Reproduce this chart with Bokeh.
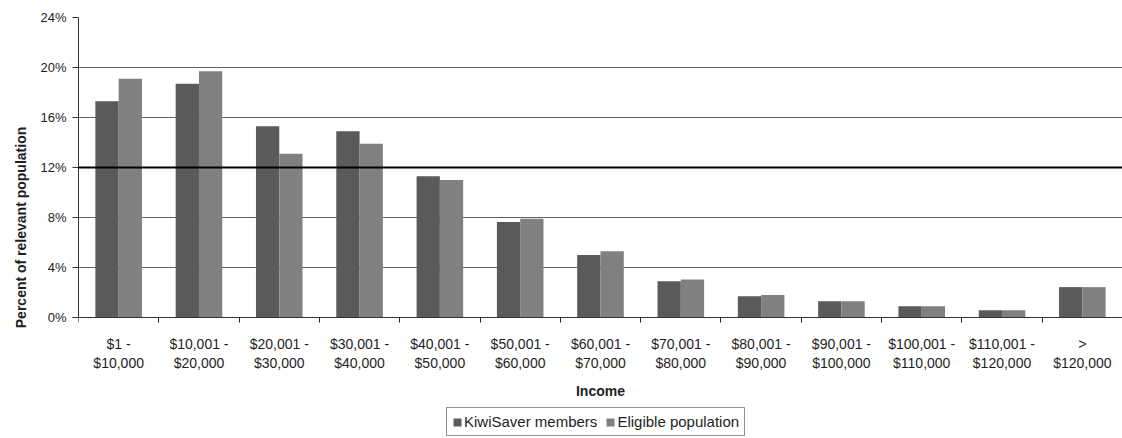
from bokeh.plotting import figure
from bokeh.models import (FixedTicker, Legend, LegendItem, Span, ColumnDataSource,
                          Range1d, PrintfTickFormatter)
from bokeh.transform import dodge
from bokeh.embed import file_html
from bokeh.resources import INLINE

categories = ["$1 -\n$10,000", "$10,001 -\n$20,000", "$20,001 -\n$30,000",
              "$30,001 -\n$40,000", "$40,001 -\n$50,000", "$50,001 -\n$60,000",
              "$60,001 -\n$70,000", "$70,001 -\n$80,000", "$80,001 -\n$90,000",
              "$90,001 -\n$100,000", "$100,001 -\n$110,000", "$110,001 -\n$120,000",
              ">\n$120,000"]
kiwisaver_members = [17.3, 18.7, 15.3, 14.9, 11.3, 7.65, 5.0, 2.9, 1.7, 1.3, 0.9, 0.58, 2.43]
eligible_population = [19.1, 19.7, 13.1, 13.9, 11.0, 7.9, 5.3, 3.05, 1.8, 1.3, 0.9, 0.58, 2.43]
y_ticks = [0, 4, 8, 12, 16, 20, 24]

FONT = "Liberation Sans"
TEXT = "#1e1e1e"
KS_COLOR = "#5a5a5a"
EP_COLOR = "#808080"

pos = list(range(len(categories)))
src = ColumnDataSource(dict(x=pos, ks=kiwisaver_members, ep=eligible_population))

# frame extends below zero to hold the category labels, axis title and legend
p = figure(frame_width=1044, frame_height=420,
           x_range=Range1d(-0.5, len(categories) - 0.5),
           y_range=Range1d(-9.6, 24), output_backend="svg", toolbar_location=None,
           min_border_right=0, min_border_top=17, min_border_left=78,
           min_border_bottom=0)
p.outline_line_color = None
p.xgrid.grid_line_color = None
p.ygrid.grid_line_color = "#606060"
p.ygrid.grid_line_width = 1

r1 = p.vbar(x=dodge('x', -0.145), top='ks', width=0.29, source=src,
            fill_color=KS_COLOR, line_color=None)
r2 = p.vbar(x=dodge('x', 0.145), top='ep', width=0.29, source=src,
            fill_color=EP_COLOR, line_color=None)

p.add_layout(Span(location=12, dimension="width", line_color="black", line_width=2))

# y axis
p.yaxis.ticker = FixedTicker(ticks=y_ticks)
p.yaxis.bounds = (0, 24)
p.yaxis.formatter = PrintfTickFormatter(format="%d%%")
p.yaxis.axis_label = "Percent of relevant population"
p.yaxis.axis_label_text_font = FONT
p.yaxis.axis_label_text_font_style = "bold"
p.yaxis.axis_label_text_font_size = "14px"
p.yaxis.axis_label_text_color = TEXT
p.yaxis.axis_label_standoff = 8
p.yaxis.major_label_text_font = FONT
p.yaxis.major_label_text_font_size = "13px"
p.yaxis.major_label_text_color = TEXT
p.yaxis.major_label_standoff = 6
p.yaxis.major_tick_out = 6
p.yaxis.major_tick_in = 0
p.yaxis.minor_tick_line_color = None
p.yaxis.axis_line_color = "#333333"
p.yaxis.major_tick_line_color = "#333333"

# x axis, pinned at y = 0
p.xaxis.fixed_location = 0
p.xaxis.ticker = FixedTicker(ticks=pos, minor_ticks=[i - 0.5 for i in range(len(categories) + 1)])
p.xaxis.major_label_overrides = {i: c for i, c in zip(pos, categories)}
p.xaxis.major_tick_line_color = None
p.xaxis.major_tick_out = 0
p.xaxis.major_tick_in = 0
p.xaxis.major_label_standoff = 13
p.xaxis.minor_tick_out = 5
p.xaxis.minor_tick_in = 0
p.xaxis.minor_tick_line_color = "#222222"
p.xaxis.axis_line_color = "#333333"
p.xaxis.major_label_text_font = FONT
p.xaxis.major_label_text_font_size = "14px"
p.xaxis.major_label_text_color = TEXT
p.xaxis.major_label_text_align = "center"
p.xaxis.axis_label = "Income"
p.xaxis.axis_label_text_font = FONT
p.xaxis.axis_label_text_font_style = "bold"
p.xaxis.axis_label_text_font_size = "14px"
p.xaxis.axis_label_text_color = TEXT
p.xaxis.axis_label_standoff = 9

legend = Legend(items=[LegendItem(label="KiwiSaver members", renderers=[r1]),
                       LegendItem(label="Eligible population", renderers=[r2])],
                orientation="horizontal", location=(368, 1))
legend.border_line_color = "#222222"
legend.border_line_width = 1
legend.label_text_font = FONT
legend.label_text_font_size = "15px"
legend.label_text_color = TEXT
legend.glyph_width = 10
legend.glyph_height = 10
legend.padding = 5
legend.spacing = 8
legend.label_standoff = 2
legend.margin = 0
p.add_layout(legend, "center")

open("out.html", "w").write(file_html(p, INLINE))
